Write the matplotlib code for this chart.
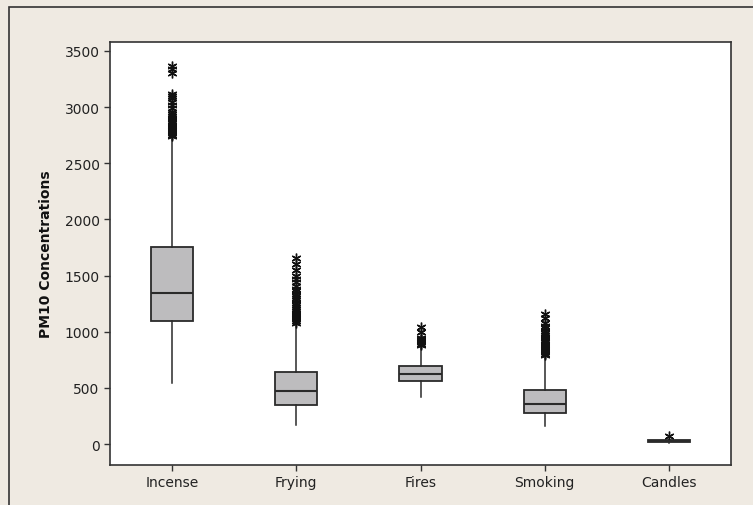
import matplotlib
matplotlib.use("Agg")
import matplotlib.pyplot as plt
from matplotlib.patches import Rectangle

categories = ["Incense", "Frying", "Fires", "Smoking", "Candles"]
q1 = [1098, 350, 561, 279, 20]
med = [1347, 469, 621, 354, 28]
q3 = [1754, 644, 695, 481, 36]
whislo = [543, 169, 416, 158, 12]
whishi = [2720, 1065, 875, 780, 45]
outliers = [
    [2740, 2755, 2770, 2785, 2800, 2815, 2830, 2845, 2860, 2875, 2890, 2905, 2920, 2940,
     2960, 2990, 3020, 3050, 3080, 3100, 3120, 3300, 3340, 3370],
    [1080, 1095, 1110, 1125, 1140, 1155, 1170, 1185, 1200, 1220, 1240, 1260, 1280, 1300,
     1320, 1340, 1360, 1380, 1410, 1440, 1470, 1500, 1550, 1600, 1660],
    [885, 895, 905, 915, 925, 935, 945, 1000, 1045],
    [790, 805, 820, 835, 850, 865, 880, 895, 910, 925, 940, 955, 970, 990, 1010, 1030,
     1050, 1080, 1120, 1160],
    [68],
]
yticks = [0, 500, 1000, 1500, 2000, 2500, 3000, 3500]

bg = "#EFEAE2"
fig = plt.figure(figsize=(7.53, 5.06), dpi=100, facecolor=bg)
fig.patches.append(Rectangle((9 / 753, -0.1), 1.2, 1 - 8 / 506 + 0.1, transform=fig.transFigure,
                             fill=False, edgecolor="#333333", linewidth=1.2))
ax = fig.add_axes([110 / 753, 1 - 466 / 506, (731 - 110) / 753, (466 - 43) / 506])
ax.set_facecolor("white")

stats = []
for i, c in enumerate(categories):
    stats.append(dict(label=c, q1=q1[i], med=med[i], q3=q3[i], whislo=whislo[i],
                      whishi=whishi[i], fliers=outliers[i]))

ax.bxp(stats, positions=range(1, len(categories) + 1), widths=0.34, patch_artist=True,
       showcaps=False,
       boxprops=dict(facecolor="#BDBCBE", edgecolor="#2a2a2a", linewidth=1.3),
       medianprops=dict(color="#2a2a2a", linewidth=1.5),
       whiskerprops=dict(color="#2a2a2a", linewidth=1.1),
       flierprops=dict(marker=(6, 2, 0), markersize=7, markeredgecolor="#111111",
                       markeredgewidth=1.0, linestyle="none"))

ax.set_xlim(0.5, 5.5)
ax.set_ylim(-187, 3580)
ax.set_yticks(yticks)
ax.set_yticklabels([str(v) for v in yticks])
ax.tick_params(axis="both", direction="out", length=4, width=1, color="#333333",
               labelsize=10, labelcolor="#222222")
for s in ax.spines.values():
    s.set_color("#333333")
    s.set_linewidth(1.2)
ax.set_ylabel("PM10 Concentrations", fontsize=10, fontweight="bold", color="#111111", labelpad=8)

fig.savefig("out.png", dpi=100, facecolor=bg)
